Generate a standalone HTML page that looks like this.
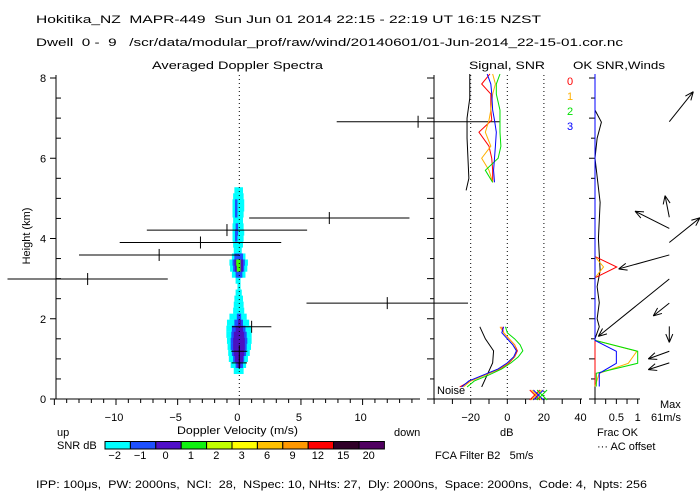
<!DOCTYPE html>
<html><head><meta charset="utf-8"><style>
html,body{margin:0;padding:0;background:#fff;}
svg{display:block;font-family:"Liberation Sans",sans-serif;}
text{font-size:11px;fill:#000;white-space:pre;}
</style></head><body>
<svg id="chart" width="700" height="500" viewBox="0 0 700 500" xmlns="http://www.w3.org/2000/svg" xml:space="preserve">
<text x="36" y="23" textLength="505" lengthAdjust="spacingAndGlyphs">Hokitika_NZ  MAPR-449  Sun Jun 01 2014 22:15 - 22:19 UT 16:15 NZST</text>
<text x="36" y="46" textLength="587" lengthAdjust="spacingAndGlyphs">Dwell  0 -  9   /scr/data/modular_prof/raw/wind/20140601/01-Jun-2014_22-15-01.cor.nc</text>
<text x="152" y="69" textLength="171" lengthAdjust="spacingAndGlyphs">Averaged Doppler Spectra</text>
<text x="469" y="69" textLength="76" lengthAdjust="spacingAndGlyphs">Signal, SNR</text>
<text x="573" y="69" textLength="92" lengthAdjust="spacingAndGlyphs">OK SNR,Winds</text>
<text transform="translate(30,236) rotate(-90)" text-anchor="middle">Height (km)</text>
<text x="177" y="434" textLength="121" lengthAdjust="spacingAndGlyphs">Doppler Velocity (m/s)</text>
<text x="57" y="436">up</text>
<text x="394" y="436">down</text>
<text x="500" y="436">dB</text>
<text x="597" y="436">Frac OK</text>
<text x="597" y="450">··· AC offset</text>
<text x="660" y="408">Max</text>
<text x="651" y="421">61m/s</text>
<text x="57" y="449">SNR dB</text>
<text x="435" y="459">FCA Filter B2   5m/s</text>
<text x="437" y="394">Noise</text>
<text x="36" y="488" textLength="611" lengthAdjust="spacingAndGlyphs">IPP: 100μs,  PW: 2000ns,  NCI:  28,  NSpec: 10, NHts: 27,  Dly: 2000ns,  Space: 2000ns,  Code: 4,  Npts: 256</text>
<text x="567" y="85" style="fill:#ff0000">0</text>
<text x="567" y="100" style="fill:#ffb000">1</text>
<text x="567" y="115" style="fill:#00e000">2</text>
<text x="567" y="130" style="fill:#0000ff">3</text>
<g id="marks"></g>
</svg>
<script>
var specH = [5.2,5.05,4.9,4.75,4.6,4.45,4.3,4.15,4.0,3.85,3.7,3.55,3.4,3.25,3.1,2.95,2.8,2.65,2.5,2.35,2.2,2.05,1.9,1.75,1.6,1.45,1.3,1.15,1.0,0.85,0.7];
var cyanL = [-0.4,-0.5,-0.55,-0.55,-0.55,-0.5,-0.55,-0.55,-0.55,-0.5,-0.45,-0.6,-0.8,-0.75,-0.6,-0.3,-0.15,-0.3,-0.4,-0.45,-0.5,-0.8,-1.0,-1.05,-1.05,-1.0,-0.95,-0.9,-0.85,-0.7,-0.45];
var cyanR = [0.3,0.35,0.4,0.4,0.35,0.3,0.35,0.4,0.35,0.3,0.2,0.5,0.7,0.65,0.5,0.1,0.1,0.2,0.3,0.35,0.4,0.6,0.8,0.95,1.0,1.0,0.95,0.85,0.7,0.55,0.35];
var blueL = [0,0,-0.35,-0.35,-0.35,0,-0.3,-0.35,-0.35,0,0,-0.4,-0.55,-0.5,-0.3,0,0,0,0,0,0,-0.2,-0.4,-0.6,-0.65,-0.7,-0.7,-0.6,-0.5,-0.3,0];
var blueR = [0,0,-0.15,-0.15,-0.15,0,-0.1,-0.1,-0.15,0,0,0.3,0.45,0.4,0.25,0,0,0,0,0,0,0.15,0.3,0.5,0.6,0.65,0.6,0.55,0.4,0.3,0];
var indL = [0,0,0,0,0,0,0,0,0,0,0,0,-0.4,-0.35,0,0,0,0,0,0,0,0,-0.1,-0.3,-0.45,-0.5,-0.5,-0.45,-0.35,-0.15,0];
var indR = [0,0,0,0,0,0,0,0,0,0,0,0,0.3,0.3,0,0,0,0,0,0,0,0,0.15,0.3,0.4,0.45,0.45,0.4,0.3,0.1,0];
var greenL = [0,0,0,0,0,0,0,0,0,0,0,0,-0.25,-0.2,0,0,0,0,0,0,0,0,0,0,0,0,0,0,0,0,0];
var greenR = [0,0,0,0,0,0,0,0,0,0,0,0,0.1,0.1,0,0,0,0,0,0,0,0,0,0,0,0,0,0,0,0,0];

var momH = [6.91,4.51,4.21,3.90,3.59,2.99,2.39,1.80,1.19,0.90];
var momV = [14.5,7.3,-1.0,-3.15,-6.5,-12.3,12.0,1.0,0.0,0.0];
var momW = [6.6,6.5,6.5,6.55,6.5,6.5,6.55,1.6,0.65,0.62];

var snrHLo = [1.8,1.65,1.5,1.35,1.2,1.05,0.9,0.75,0.6,0.45,0.3];
var snrRedLo = [-3,-2,1,4,5.5,4,1,-4,-12,-20,-26];
var snrOrangeLo = [-4,-2,1,4,5,3.8,0.5,-4.5,-12,-20,-24];
var snrGreenLo = [-1,0,4,7,8.5,6,2,-3,-10,-18,-22];
var snrBlueLo = [-2,-3,0,3,5,3.5,0,-5,-13,-21,-25];
var snrHHi = [8.1,7.85,7.6,7.2,6.95,6.65,6.3,6.0,5.7,5.4];
var snrRedHi = [-9.5,-14,-9,-9,-8.5,-15.5,-10,-8.5,-8,-8];
var snrOrangeHi = [-8,-6.5,-8,-9,-10,-12,-9,-14,-10,-8];
var snrGreenHi = [-4,-6,-6,-4,-4,-4,-3.5,-5,-12,-8];
var snrBlueHi = [-11,-9,-8.5,-8,-7,-6,-6.5,-7,-7.5,-7];
var noiseHLo = [1.8,1.5,1.2,0.9,0.6,0.3];
var noiseLo = [-15,-12,-7.5,-8,-11,-14];
var noiseHHi = [8.1,7.5,7.0,6.5,6.0,5.5,5.2];
var noiseHi = [-20.5,-20.5,-22,-22,-21.5,-21,-22.5];
var xMarkDb = [15,16,17,19];

var okH = [0.31,0.64,0.89,1.19,1.46,3.02,3.29,3.55,8.1];
var okRed = [0,0,0,0,0,0,0.51,0,0];
var okOrange = [0,0.1,0.78,0.98,0,0,0.2,0,0];
var okGreen = [0.03,0.03,1.0,1.0,0,0,0,0,0];
var okBlue = [0.1,0.1,0.5,0.5,0,0,0,0,0];
var acH = [1.5,1.8,2.0,2.4,2.8,3.2,4.0,4.9,6.0,6.5,6.9,7.2];
var acOff = [0.0,0.1,0.05,0.1,0.05,0.12,0.08,0.12,0.0,0.05,0.15,0.0];

var windH = [6.91,4.25,4.53,3.90,3.59,2.99,2.39,1.81,1.19,0.90];
var windU = [19.2,-27.4,-3.4,24.6,-40.5,-56.8,-12.8,0,-16.8,-16.8];
var windV = [24,13.8,17.3,19.8,-11.2,-45.9,-10.2,-12.8,-6.1,-5.4];

var cbLabels = ["-2","-1","0","1","2","3","6","9","12","15","20"];
var cbColors = ["#00ffff","#1e50ff","#5010c8","#10f010","#c0ff00","#ffff00","#ffc000","#ff9800","#ff0000","#300028","#500060"];
var leftYTicks = [0,2,4,6,8];
var leftXTicks = [-10,-5,0,5,10];
var dbTicks = [-20,0,20,40];

function Y(h){return 399 - h*40.125;}
function XV(v){return 239.3 + v*12.33;}
function XD(d){return 507.3 + d*1.83;}
function XF(f){return 595 + f*42.7;}
var NS="http://www.w3.org/2000/svg";
var g=document.getElementById('marks');
function mk(tag,attrs){var e=document.createElementNS(NS,tag);for(var k in attrs)e.setAttribute(k,attrs[k]);g.appendChild(e);return e;}
function line(x1,y1,x2,y2,c,w,dash){var e=mk('line',{x1:x1,y1:y1,x2:x2,y2:y2,stroke:c||'#000','stroke-width':w||1});if(dash)e.setAttribute('stroke-dasharray',dash);return e;}
function txt(x,y,s,anchor){var e=mk('text',{x:x,y:y,'text-anchor':anchor||'middle'});e.textContent=s;return e;}

function band(L,R,col,name){
  for(var i=0;i<specH.length;i++){
    if(L[i]===0&&R[i]===0)continue;
    var r=mk('rect',{x:XV(L[i]),y:Y(specH[i])-3.1,width:Math.max(1,XV(R[i])-XV(L[i])),height:6.2,fill:col});
    
    
  }
}
band(cyanL,cyanR,'#00ffff','spectra-cell-cyan');
band(blueL,blueR,'#1e50ff','spectra-cell-blue');
band(indL,indR,'#4a10c0','spectra-cell-indigo');
band(greenL,greenR,'#40ff00','spectra-cell-green');

var ax=line(56,75,56,399);


var bx=line(50,399,420,399);


for(var h=0;h<=8.001;h+=0.5){
  if(Math.abs(h-Math.round(h/2)*2)<0.01) line(50,Y(h),56,Y(h)); else line(56,Y(h),61,Y(h));
}
leftYTicks.forEach(function(t){var e=txt(43,Y(t)+4,String(t));

});
for(var v=-15;v<=14;v++){ line(XV(v),399,XV(v),(v%5===0)?405:403); }
leftXTicks.forEach(function(t){var e=txt(XV(t)-2,421,t<0?'\u2212'+(-t):String(t));

});
line(XV(0),75,XV(0),399,'#000',1,'1,3');

for(var i=0;i<momH.length;i++){
  var y=Y(momH[i]);
  var b=line(XV(momV[i]-momW[i]),y,XV(momV[i]+momW[i]),y);
  
  
  var c=line(XV(momV[i]),y-6,XV(momV[i]),y+6);
  
  
}

line(434,75,434,399);line(434,399,582,399);
for(var h=0;h<=8.001;h+=0.5){ line((Math.abs(h-Math.round(h))<0.01)?427:430,Y(h),434,Y(h)); }
for(var d=-40;d<=40;d+=10){ line(XD(d),399,XD(d),404); }
dbTicks.forEach(function(t){var e=txt(XD(t),421,t<0?'\u2212'+(-t):String(t));

});
[-20,0,20].forEach(function(d){line(XD(d),75,XD(d),399,'#000',1,'1,3');});

function poly(H,V,sx,col,name){
  var pts=[];for(var i=0;i<H.length;i++)pts.push(sx(V[i])+','+Y(H[i]));
  var p=mk('polyline',{points:pts.join(' '),fill:'none',stroke:col,'stroke-width':1});
  
  
}
poly(noiseHLo,noiseLo,XD,'#000','noise-line-low');
poly(noiseHHi,noiseHi,XD,'#000','noise-line-high');
poly(snrHLo,snrRedLo,XD,'#ff0000','snr-beam-0-low');
poly(snrHLo,snrOrangeLo,XD,'#ffb000','snr-beam-1-low');
poly(snrHLo,snrGreenLo,XD,'#00e000','snr-beam-2-low');
poly(snrHLo,snrBlueLo,XD,'#0000ff','snr-beam-3-low');
poly(snrHHi,snrRedHi,XD,'#ff0000','snr-beam-0-high');
poly(snrHHi,snrOrangeHi,XD,'#ffb000','snr-beam-1-high');
poly(snrHHi,snrGreenHi,XD,'#00e000','snr-beam-2-high');
poly(snrHHi,snrBlueHi,XD,'#0000ff','snr-beam-3-high');
var xcols=['#ff0000','#ffb000','#0000ff','#00e000'];
for(var i=0;i<xMarkDb.length;i++){
  var cx=XD(xMarkDb[i]),cy=Y(0.1);
  var a=line(cx-5,cy-5,cx+5,cy+5,xcols[i]);
  
  
  line(cx-5,cy+5,cx+5,cy-5,xcols[i]);
}

line(595,75,595,399);line(595,399,640,399);
for(var h=0;h<=8.001;h+=0.5){ line((Math.abs(h-Math.round(h))<0.01)?589:591,Y(h),595,Y(h)); }
for(var f=0;f<=1.001;f+=0.25){ line(XF(f),399,XF(f),404); }
var l1=txt(XF(0.5),421,'0.5');


var l2=txt(XF(1),421,'1');


poly(acH,acOff,XF,'#000','ac-offset-line');
poly(okH,okRed,XF,'#ff0000','frac-ok-beam-0');
poly(okH,okOrange,XF,'#ffb000','frac-ok-beam-1');
poly(okH,okGreen,XF,'#00e000','frac-ok-beam-2');
poly(okH,okBlue,XF,'#0000ff','frac-ok-beam-3');

var WS=1.25, bx0=669.3;
for(var i=0;i<windH.length;i++){
  var x0=bx0,y0=Y(windH[i]),x1=x0+windU[i]*WS,y1=y0-windV[i]*WS;
  var s=line(x0,y0,x1,y1);
  
  
  var ang=Math.atan2(y1-y0,x1-x0);
  [0.4,-0.4].forEach(function(o){line(x1,y1,x1-9*Math.cos(ang+o),y1-9*Math.sin(ang+o));});
}

for(var i=0;i<cbColors.length;i++){
  var r=mk('rect',{x:105+i*25.4,y:441.5,width:25.4,height:7.5,fill:cbColors[i],stroke:'#000','stroke-width':1});
  
  
  var t=txt(105+i*25.4+12.7-3,459,cbLabels[i].replace('-','\u2212'));
  
  
}
</script>
</body></html>
